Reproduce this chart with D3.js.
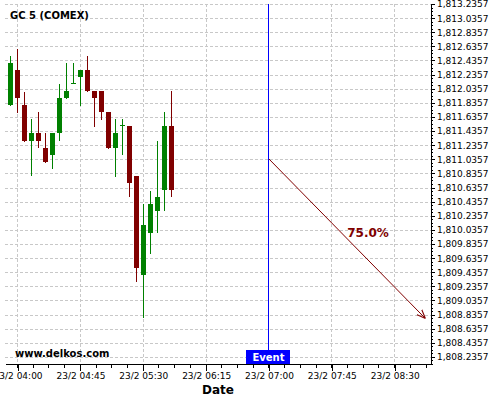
<!DOCTYPE html>
<html>
<head>
<meta charset="utf-8">
<script src="https://cdn.jsdelivr.net/npm/d3@7"></script>
<style>
  body { margin: 0; background: #fff; }
  svg { display: block; font-family: "DejaVu Sans", sans-serif; }
  .grid line { stroke: #c8c8c8; stroke-dasharray: 3,2; shape-rendering: crispEdges; }
  .axis path, .axis line { stroke: #000; shape-rendering: crispEdges; }
  .axis text { font-family: "DejaVu Sans", sans-serif; font-size: 9px; fill: #000; }
</style>
</head>
<body>
<div id="chart"></div>
<script>
// 5 minute bars, GC 5 (COMEX), 23/2
const candleTimes = ["03:55","04:00","04:05","04:10","04:15","04:20","04:25","04:30",
                     "04:35","04:40","04:45","04:50","04:55","05:00","05:05","05:10",
                     "05:15","05:20","05:25","05:30","05:35","05:40","05:45","05:50"];
const opens  = [1811.805,1812.301,1811.805,1811.299,1811.408,1811.200,1811.101,1811.412,
                1811.904,1812.112,1812.206,1812.301,1812.003,1812.003,1811.706,1811.200,
                1811.517,1811.507,1810.799,1809.401,1809.996,1810.307,1810.605,1811.507];
const highs  = [1812.499,1812.602,1811.993,1811.602,1811.706,1811.404,1811.408,1812.102,
                1812.396,1812.396,1812.301,1812.499,1812.003,1812.003,1811.706,1811.606,
                1811.606,1811.507,1810.799,1810.398,1810.591,1811.295,1811.706,1812.003];
const lows   = [1811.795,1811.696,1811.285,1810.795,1811.191,1810.987,1810.894,1811.291,
                1811.894,1812.102,1811.795,1811.993,1811.497,1811.597,1811.181,1810.789,
                1811.092,1810.497,1809.293,1808.783,1809.690,1809.987,1810.299,1810.497];
const closes = [1812.400,1811.908,1811.299,1811.408,1811.299,1811.002,1811.408,1811.904,
                1812.003,1812.112,1812.301,1812.003,1811.904,1811.710,1811.196,1811.408,
                1811.517,1810.704,1809.500,1810.105,1810.402,1810.502,1811.507,1810.605];

const xTickTimes  = ["04:00","04:45","05:30","06:15","07:00","07:45","08:30"];
const xTickLabels = ["23/2 04:00","23/2 04:45","23/2 05:30","23/2 06:15","23/2 07:00","23/2 07:45","23/2 08:30"];
const yTickFirst = 1808.2357, yTickLast = 1813.2357, yTickStep = 0.2;

const eventTime = "07:00";
const forecastTimes  = ["07:00", "08:52"];
const forecastValues = [1811.04, 1808.78];
const forecastLabel = "75.0%";

const title = "GC 5 (COMEX)";
const watermark = "www.delkos.com";

function t(s) {
    let p = s.split(":");
    return new Date(2023, 1, 23, +p[0], +p[1]);
}

let m = { left: 5, right: 69, top: 4, bottom: 36 };
let width = 500 - m.left - m.right,
    height = 400 - m.top - m.bottom;

let svg = d3.select("#chart").append("svg")
    .attr("width", 500)
    .attr("height", 400);

let vis = svg.append("g")
    .attr("transform", "translate(" + m.left + "," + m.top + ")");

let x = d3.scaleTime().domain([t("03:51"), t("08:56")]).range([0, width]);
let y = d3.scaleLinear().domain([1808.1357, yTickLast]).range([height, 0]);

let yTicks = d3.range(0, Math.round((yTickLast - yTickFirst) / yTickStep) + 1).map(i => yTickFirst + i * yTickStep);
let yMinor = d3.range(0, Math.round((yTickLast - 1808.1357) / 0.05) + 1).map(i => 1808.1357 + i * 0.05);
let xMinor = d3.range(-1, 27).map(i => new Date(+t("04:00") + i * 11.25 * 60000)).filter(d => d >= x.domain()[0] && d <= x.domain()[1]);

const px = (d) => Math.floor(x(d)) + 0.5;
const py = (v) => Math.round(y(v)) + 0.5;

// grid
let grid = vis.append("g").attr("class", "grid");
grid.selectAll(".h").data(yTicks).enter().append("line")
    .attr("x1", 0).attr("x2", width)
    .attr("y1", d => py(d)).attr("y2", d => py(d));
grid.selectAll(".v").data(xTickTimes).enter().append("line")
    .attr("x1", d => px(t(d))).attr("x2", d => px(t(d)))
    .attr("y1", 0).attr("y2", height);

// candles
let candles = candleTimes.map((c, i) => ({ time: t(c), o: opens[i], h: highs[i], l: lows[i], c: closes[i] }));

let cg = vis.selectAll(".candle").data(candles).enter().append("g").attr("class", "candle");
cg.append("line")
    .attr("x1", d => px(d.time)).attr("x2", d => px(d.time))
    .attr("y1", d => Math.round(y(d.h))).attr("y2", d => Math.round(y(d.l)))
    .attr("stroke", d => d.c >= d.o ? "#008000" : "#800000")
    .attr("shape-rendering", "crispEdges");
cg.append("rect")
    .attr("x", d => Math.floor(x(d.time)) - 2)
    .attr("width", 5)
    .attr("y", d => Math.round(y(Math.max(d.o, d.c))))
    .attr("height", d => Math.max(1, Math.round(y(Math.min(d.o, d.c))) - Math.round(y(Math.max(d.o, d.c)))))
    .attr("fill", d => d.c >= d.o ? "#008000" : "#800000")
    .attr("shape-rendering", "crispEdges");

// axes
let fmt = d3.format(",.4f");
let xAxis = vis.append("g").attr("class", "axis")
    .attr("transform", "translate(0," + height + ")")
    .call(d3.axisBottom(x).tickValues(xTickTimes.map(t)).tickSize(7).tickSizeOuter(0).tickPadding(2)
        .tickFormat((d, i) => xTickLabels[i]));
xAxis.selectAll(".minor").data(xMinor).enter().append("line")
    .attr("x1", d => px(d)).attr("x2", d => px(d))
    .attr("y1", 0).attr("y2", 4)
    .attr("stroke", "#000");

let yAxis = vis.append("g").attr("class", "axis")
    .attr("transform", "translate(" + width + ",0)")
    .call(d3.axisRight(y).tickValues(yTicks).tickSize(4).tickSizeOuter(0).tickPadding(2).tickFormat(fmt));
yAxis.selectAll(".minor").data(yMinor).enter().append("line")
    .attr("x1", 0).attr("x2", 2)
    .attr("y1", d => py(d)).attr("y2", d => py(d))
    .attr("stroke", "#000");

vis.append("text")
    .attr("x", width / 2)
    .attr("y", height + 30)
    .style("text-anchor", "middle")
    .style("font-weight", "bold")
    .style("font-size", "12px")
    .text("Date");

// event marker
let ex = px(t(eventTime));
vis.append("line")
    .attr("x1", ex).attr("x2", ex)
    .attr("y1", 0).attr("y2", height - 14)
    .attr("stroke", "#0000ff")
    .attr("shape-rendering", "crispEdges");
vis.append("rect")
    .attr("x", ex - 22.5).attr("y", height - 14)
    .attr("width", 44).attr("height", 14)
    .attr("fill", "#0000ff");
vis.append("text")
    .attr("x", ex).attr("y", height - 3)
    .style("text-anchor", "middle")
    .style("font-weight", "bold")
    .style("font-size", "10px")
    .attr("fill", "#fff")
    .text("Event");

// forecast arrow
svg.append("defs").append("marker")
    .attr("id", "arrow")
    .attr("viewBox", "0 0 10 10")
    .attr("refX", 10).attr("refY", 5)
    .attr("markerWidth", 9).attr("markerHeight", 9)
    .attr("markerUnits", "userSpaceOnUse")
    .attr("orient", "auto")
    .append("path")
    .attr("d", "M0,1L10,5L0,9")
    .attr("fill", "none")
    .attr("stroke", "#800000")
    .attr("stroke-width", 1.2);

let fx1 = x(t(forecastTimes[0])), fy1 = y(forecastValues[0]),
    fx2 = x(t(forecastTimes[1])), fy2 = y(forecastValues[1]);
vis.append("line")
    .attr("x1", fx1).attr("y1", fy1)
    .attr("x2", fx2).attr("y2", fy2)
    .attr("stroke", "#800000")
    .attr("marker-end", "url(#arrow)");
vis.append("text")
    .attr("x", (fx1 + fx2) / 2)
    .attr("y", (fy1 + fy2) / 2 - 2)
    .style("font-weight", "bold")
    .style("font-size", "12px")
    .attr("fill", "#800000")
    .text(forecastLabel);

// labels
svg.append("text")
    .attr("x", 10).attr("y", 19)
    .style("font-weight", "bold")
    .style("font-size", "10px")
    .text(title);
svg.append("text")
    .attr("x", 15).attr("y", 357)
    .style("font-weight", "bold")
    .style("font-size", "10px")
    .text(watermark);
</script>
</body>
</html>
